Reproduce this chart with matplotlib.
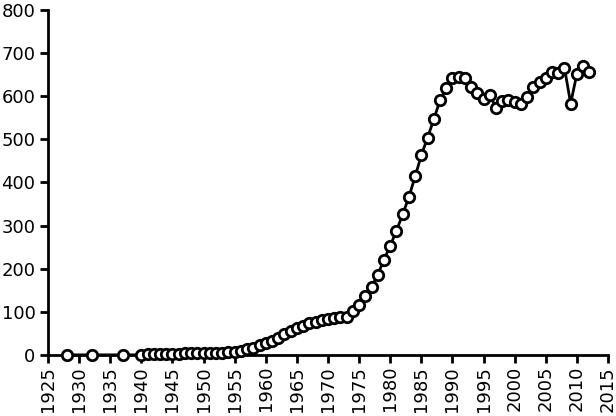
import matplotlib
matplotlib.use("Agg")
import matplotlib.pyplot as plt

years = [1928, 1932, 1937] + list(range(1940, 2013))
values = [0, 0, 0,
          # 1940-1955
          0, 1, 1, 2, 2, 3, 3, 4, 4, 4, 4, 5, 5, 5, 6, 7,
          # 1956-1969
          10, 13, 17, 22, 27, 33, 40, 48, 56, 63, 68, 73, 77, 80,
          # 1970-1979
          83, 86, 88, 87, 102, 116, 136, 158, 186, 221,
          # 1980-1989
          253, 288, 326, 366, 414, 463, 504, 546, 591, 618,
          # 1990-1999
          643, 644, 642, 621, 607, 594, 603, 573, 590, 592,
          # 2000-2009
          586, 582, 597, 621, 633, 643, 656, 654, 666, 583,
          # 2010-2012
          652, 671, 655]

xticks = list(range(1925, 2016, 5))
yticks = list(range(0, 801, 100))

fig = plt.figure(figsize=(6.16, 4.16), dpi=100)
ax = fig.add_axes([0.078, 0.147, 0.909, 0.829])
ax.plot(years, values, color='black', linewidth=2,
        marker='o', markersize=7.5, markerfacecolor='white',
        markeredgecolor='black', markeredgewidth=2, clip_on=False, zorder=3)
ax.set_xlim(1925, 2015)
ax.set_ylim(0, 800)
ax.set_xticks(xticks)
ax.set_xticklabels([str(t) for t in xticks], rotation=90, fontsize=13)
ax.set_yticks(yticks)
ax.set_yticklabels([str(t) for t in yticks], fontsize=13)
for s in ['top', 'right']:
    ax.spines[s].set_visible(False)
for s in ['left', 'bottom']:
    ax.spines[s].set_linewidth(2)
ax.tick_params(axis='both', direction='out', length=6, width=2, colors='black')
ax.tick_params(axis='x', pad=2)
ax.tick_params(axis='y', pad=3)
fig.savefig('out.png', dpi=100)
